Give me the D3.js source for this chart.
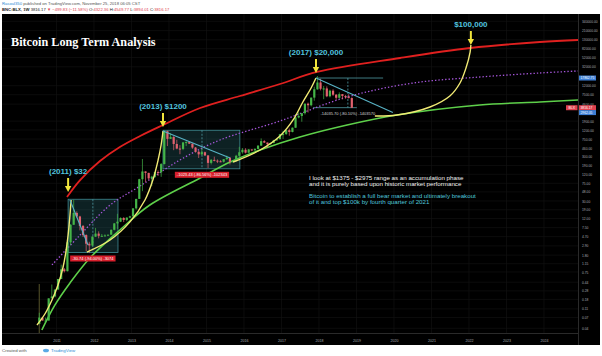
<!DOCTYPE html>
<html><head><meta charset="utf-8">
<script src="https://cdn.jsdelivr.net/npm/d3@7"></script>
<style>
body{margin:0;background:#fff;}
svg{display:block;font-family:"Liberation Sans",Arial,sans-serif;}
</style>
</head><body>
<svg id="chart" width="602" height="356"></svg>
<script>
// ---------------- DATA ----------------
// Monthly candles of BNC:BLX starting July 2010
const startYear = 2010, startMonth = 7;
const opens = [
  0.05,0.07,0.06,0.06,0.19,0.21,
  0.30,0.52,0.86,0.78,3.50,8.70,16.1,13.4,8.2,5.1,3.25,2.97,
  4.7,5.5,4.9,4.9,5.0,5.2,6.7,9.35,10.2,12.4,11.2,12.6,
  13.5,20.4,33.4,93,139,129,97,106,135,133,204,1130,
  757,832,580,457,448,630,640,589,481,387,338,378,
  320,217,254,244,236,230,263,285,230,236,314,377,
  430,369,437,416,448,531,673,624,573,608,700,742,
  963,970,1190,1080,1350,2300,2480,2875,4700,4340,6450,9950,
  14150,10220,10390,6920,9250,7500,6400,7730,7030,6630,6300
];
const highs = [
  0.09,0.07,0.07,0.19,0.39,0.30,
  0.52,1.10,0.92,3.90,9.00,32.0,17.5,13.9,8.6,5.3,3.6,4.8,
  7.4,6.2,5.4,5.3,5.2,6.8,9.5,15.4,12.8,12.9,12.9,13.9,
  20.6,33.5,95,266,140,130,111,136,147,215,1183,1160,
  1010,870,720,545,630,670,650,600,495,410,460,390,
  320,265,300,260,250,265,317,285,245,330,500,470,
  465,445,440,465,545,775,705,625,615,720,755,980,
  1150,1210,1290,1370,2760,2980,2900,4750,4980,6470,11400,19800,
  17200,11800,11600,9750,9970,7760,8480,7750,7420,7680,6550
];
const lows = [
  0.05,0.06,0.06,0.06,0.19,0.20,
  0.30,0.52,0.73,0.77,3.00,8.70,12.5,6.5,4.6,2.2,1.99,2.8,
  4.6,4.3,4.7,4.8,4.9,5.2,6.5,7.0,10.0,10.0,10.5,12.5,
  13.2,19.2,33.2,50,80,90,65,100,110,105,200,520,
  750,420,440,340,420,520,580,450,370,280,320,310,
  165,200,235,215,225,220,255,200,225,235,300,350,
  355,365,400,410,440,530,610,470,565,605,690,740,
  750,930,890,1060,1340,2200,1840,2680,2970,4100,5500,9700,
  9400,5950,6600,6550,7050,5780,6100,5880,6100,6200,3760
];
const closes = [
  0.07,0.06,0.06,0.19,0.21,0.30,
  0.52,0.86,0.78,3.50,8.70,16.1,13.4,8.2,5.1,3.25,2.97,4.7,
  5.5,4.9,4.9,5.0,5.2,6.7,9.35,10.2,12.4,11.2,12.6,13.5,
  20.4,33.4,93,139,129,97,106,135,133,204,1130,757,
  832,580,457,448,630,640,589,481,387,338,378,320,
  217,254,244,236,230,263,285,230,236,314,377,430,
  369,437,416,448,531,673,624,573,608,700,742,963,
  970,1190,1080,1350,2300,2480,2875,4700,4340,6450,9950,14150,
  10220,10390,6920,9250,7500,6400,7730,7030,6630,6300,3816.17
];

// Long-term band curves: [decimal year, price]
const redBand = [[2011.28,36.9],[2011.63,89],[2012.16,239],[2012.69,496],[2013.23,879],[2013.84,1556],
  [2014.83,3767],[2015.89,7015],[2016.96,13100],[2017.95,24430],[2020.16,50580],[2022.03,85100],[2023.89,116100],[2024.91,128800]];
const purpleBand = [[2010.88,1.08],[2011.63,5.12],[2012.43,24.3],[2013.23,65.3],[2014.29,252],[2015.36,713],
  [2016.96,1915],[2018.75,6668],[2020.51,13800],[2022.29,18840],[2023.89,23200],[2024.91,25760]];
const greenBand = [[2010.61,0.0367],[2010.96,0.135],[2011.36,0.423],[2011.89,1.55],[2012.69,6.64],[2013.49,24.3],
  [2014.83,99],[2015.63,227],[2016.43,424],[2017.49,834],[2018.75,1556],[2020.08,2616],[2022.29,4400],[2023.89,5140],[2024.91,5700]];
// Parabolic runs (yellow)
const parabola2011 = [[2010.48,0.0476],[2010.69,0.0843],[2010.88,0.175],[2011.04,0.381],[2011.17,0.921],[2011.25,2.11],[2011.31,5.12],[2011.36,14.5],[2011.39,31.6]];
const parabola2013 = [[2011.81,2.11],[2012.43,3.95],[2012.96,10.1],[2013.36,31.6],[2013.57,89],[2013.71,252],[2013.79,550],[2013.84,1138]];
const parabola2017 = [[2015.71,227],[2016.43,424],[2016.96,879],[2017.31,2018],[2017.57,5140],[2017.79,10640],[2017.92,17900]];
const parabola2021 = [[2019.49,2483],[2020.08,2616],[2020.96,3963],[2021.49,7015],[2021.76,13800],[2021.92,30060],[2022.03,69050],[2022.05,99300]];

// Measurement boxes (price range tool)
const boxStart  = [2011.31, 2013.84, 2017.92];
const boxEnd    = [2012.64, 2015.89, 2019.71];
const boxMid    = [2011.97, 2014.88, 2018.77];
const boxTop    = [32.8, 1183, 17862.75];
const boxBottom = [2.06, 159.57, 3827.05];
const boxLabels = ["-30.74 (-94.00%) -3074", "-1023.43 (-86.56%) -102343", "-14035.70 (-80.10%) -1403570"];
// Down-trend lines
const trendFrom = [[2011.36,31.6],[2013.84,1138],[2017.92,17900]];
const trendTo   = [[2011.84,3.04],[2015.63,280],[2019.97,2962.05]];

// Peak call-outs
const peakLabels = ["(2011) $32", "(2013) $1200", "(2017) $20,000", "$100,000"];
const peakDates  = [2011.31, 2013.84, 2017.92, 2022.05];
const peakPrices = [47.9, 1403, 23200, 99300];

const noteLines  = ["I look at $1375 - $2975  range as an accumulation phase",
                    "and it is purely based upon historic market performance"];
const noteLines2 = ["Bitcoin to establish a full bear market and ultimately breakout",
                    "of it and  top $100k by fourth quarter of 2021"];

const priceTicks = [550000,340000,210000,130000,82000,52000,32000,12000,7500,4600,1900,1200,750,460,300,190,120,
  75,48,30,19,12,7.5,4.7,2.9,1.8,1.15,0.75,0.44,0.28,0.18,0.11,0.07,0.04];
const yearTicks = [2011,2012,2013,2014,2015,2016,2017,2018,2019,2020,2021,2022,2023,2024];
const priceBoxes = [17862.75, 3816.17, 2962.05];
const priceBoxColors = ["#3d7fd6", "#e0424f", "#3d7fd6"];

// ---------------- DRAW ----------------
const W = 602, H = 356;
const L = 2, R = 578, T = 14, B = 333;
const svg = d3.select("#chart");
svg.append("rect").attr("width", W).attr("height", H).attr("fill", "#fff");
svg.append("rect").attr("x", 2).attr("y", 14).attr("width", 598).attr("height", 331).attr("fill", "#000");

const x = d3.scaleLinear().domain([2009.547, 2024.907]).range([L, R]);
const y = d3.scaleLog().domain([0.0314, 497700]).range([B, T]);

// grid
const grid = svg.append("g");
grid.selectAll("line.h").data(priceTicks.filter(d => y(d) > T)).join("line")
  .attr("x1", L).attr("x2", R).attr("y1", d => y(d)).attr("y2", d => y(d))
  .attr("stroke", "#141414").attr("stroke-width", 0.6);
grid.selectAll("line.v").data(yearTicks).join("line")
  .attr("y1", T).attr("y2", B).attr("x1", d => x(d)).attr("x2", d => x(d))
  .attr("stroke", "#141414").attr("stroke-width", 0.6);

svg.append("defs").append("clipPath").attr("id", "plot")
  .append("rect").attr("x", L).attr("y", T).attr("width", R - L).attr("height", B - T);
const plot = svg.append("g").attr("clip-path", "url(#plot)");

// session marker line
plot.append("line").attr("x1", x(2010.54)).attr("x2", x(2010.54)).attr("y1", y(0.4)).attr("y2", B)
  .attr("stroke", "#6f6b35").attr("stroke-width", 0.8);

// measurement boxes
boxStart.forEach((s, i) => {
  const x0 = x(s), x1 = x(boxEnd[i]), y0 = y(boxTop[i]), y1 = y(boxBottom[i]);
  if (i < 2) {
    plot.append("rect").attr("x", x0).attr("y", y0).attr("width", x1 - x0).attr("height", y1 - y0)
      .attr("fill", "rgba(45,120,125,0.28)").attr("stroke", "#3f8c94").attr("stroke-width", 0.8);
  } else {
    plot.append("line").attr("x1", x0).attr("x2", x1).attr("y1", y0).attr("y2", y0)
      .attr("stroke", "#4f9aa3").attr("stroke-width", 0.8);
    plot.append("line").attr("x1", x(2017.84)).attr("x2", x(2019.01)).attr("y1", y1).attr("y2", y1)
      .attr("stroke", "#4f9aa3").attr("stroke-width", 0.8);
  }
  plot.append("line").attr("x1", x(boxMid[i])).attr("x2", x(boxMid[i])).attr("y1", y0).attr("y2", y1)
    .attr("stroke", "#4f9aa3").attr("stroke-width", 0.8).attr("stroke-dasharray", "2,1.5");
});

// curves
const line = d3.line().x(d => x(d[0])).y(d => y(d[1])).curve(d3.curveCatmullRom.alpha(0.5));
plot.append("path").attr("d", line(greenBand)).attr("fill", "none").attr("stroke", "#5ed04a").attr("stroke-width", 1.6);
plot.append("path").attr("d", line(purpleBand)).attr("fill", "none").attr("stroke", "#a455d8").attr("stroke-width", 1.3).attr("stroke-dasharray", "1.4,2");
plot.append("path").attr("d", line(redBand)).attr("fill", "none").attr("stroke", "#e0201f").attr("stroke-width", 1.8);

// candles
const candleT = closes.map((_, i) => startYear + (startMonth - 1 + i + 0.5) / 12);
const cg = plot.append("g");
closes.forEach((c, i) => {
  const up = c >= opens[i];
  const col = up ? "#45b548" : "#e2616e";
  const cx = x(candleT[i]);
  cg.append("line").attr("x1", cx).attr("x2", cx).attr("y1", y(highs[i])).attr("y2", y(lows[i]))
    .attr("stroke", col).attr("stroke-width", 0.7);
  const yTop = y(Math.max(c, opens[i])), yBot = y(Math.min(c, opens[i]));
  cg.append("rect").attr("x", cx - 1.1).attr("width", 2.2).attr("y", yTop).attr("height", Math.max(1, yBot - yTop)).attr("fill", col);
});

// yellow parabolas
[parabola2011, parabola2013, parabola2017, parabola2021].forEach(p => {
  plot.append("path").attr("d", line(p)).attr("fill", "none").attr("stroke", "#f1ea74").attr("stroke-width", 1.4);
});

// trend lines
trendFrom.forEach((f, i) => {
  plot.append("line").attr("x1", x(f[0])).attr("y1", y(f[1])).attr("x2", x(trendTo[i][0])).attr("y2", y(trendTo[i][1]))
    .attr("stroke", "#58b3c6").attr("stroke-width", 1.1);
});

// measure labels
boxLabels.forEach((lab, i) => {
  const cx = x(boxMid[i]), yy = y(boxBottom[i]) + 6;
  const t = svg.append("text").attr("x", cx).attr("y", yy + 1.5).attr("text-anchor", "middle")
    .attr("font-size", 4.0).attr("fill", i < 2 ? "#fff" : "#d8d8d8").text(lab);
  const w = t.node().getComputedTextLength();
  if (i < 2) {
    svg.insert("rect", () => t.node()).attr("x", cx - w / 2 - 2).attr("y", yy - 3).attr("width", w + 4).attr("height", 6).attr("fill", "#d71f2c");
  }
});

// peak arrows & labels
peakLabels.forEach((lab, i) => {
  const ax = x(peakDates[i]), tip = y(peakPrices[i]);
  svg.append("line").attr("x1", ax).attr("x2", ax).attr("y1", tip - 14).attr("y2", tip - 5)
    .attr("stroke", "#f2e63c").attr("stroke-width", 2);
  svg.append("path").attr("d", `M${ax - 3.2},${tip - 6} L${ax + 3.2},${tip - 6} L${ax},${tip} Z`).attr("fill", "#f2e63c");
  svg.append("text").attr("x", ax).attr("y", tip - 18).attr("text-anchor", "middle")
    .attr("font-size", 8).attr("font-weight", "bold").attr("fill", "#52c3df").text(lab);
});

// notes
noteLines.forEach((t, i) => {
  svg.append("text").attr("x", 309).attr("y", 179.5 + i * 6.4).attr("font-size", 6.2).attr("fill", "#f2f2f2").text(t);
});
noteLines2.forEach((t, i) => {
  svg.append("text").attr("x", 309).attr("y", 197.5 + i * 6.4).attr("font-size", 6.2).attr("fill", "#4fc6dc").text(t);
});

// title
svg.append("text").attr("x", 11).attr("y", 46).attr("font-family", "'Liberation Serif','Times New Roman',serif")
  .attr("font-weight", "bold").attr("font-size", 12.2).attr("fill", "#fff").text("Bitcoin Long Term Analysis");

// frame lines
svg.append("line").attr("x1", R + 0.5).attr("x2", R + 0.5).attr("y1", T).attr("y2", 345).attr("stroke", "#3c3c3c").attr("stroke-width", 0.7);
svg.append("line").attr("x1", L).attr("x2", R).attr("y1", B + 0.5).attr("y2", B + 0.5).attr("stroke", "#3c3c3c").attr("stroke-width", 0.7);

// right axis
const ay = svg.append("g").attr("transform", `translate(${R},0)`)
  .call(d3.axisRight(y).tickValues(priceTicks.filter(d => y(d) > T)).tickFormat(d => d.toFixed(2)).tickSize(0).tickPadding(4));
ay.select(".domain").remove();
ay.selectAll("text").attr("font-size", 3.3).attr("fill", "#a9acb3").attr("font-family", "'Liberation Sans',Arial,sans-serif");

// bottom axis
const ax = svg.append("g").attr("transform", `translate(0,${B})`)
  .call(d3.axisBottom(x).tickValues(yearTicks).tickFormat(d3.format("d")).tickSize(0).tickPadding(6));
ax.select(".domain").remove();
ax.selectAll("text").attr("font-size", 3.6).attr("fill", "#a9acb3").attr("font-family", "'Liberation Sans',Arial,sans-serif");

// price boxes on axis
priceBoxes.forEach((p, i) => {
  const py = y(p);
  svg.append("rect").attr("x", R + 1).attr("y", py - 2.5).attr("width", 17).attr("height", 5).attr("fill", priceBoxColors[i]);
  svg.append("text").attr("x", R + 2.5).attr("y", py + 1.2).attr("font-size", 3.3).attr("fill", "#fff").text(p.toFixed(2));
});
const lastY = y(closes[closes.length - 1]);
svg.append("rect").attr("x", 566).attr("y", lastY - 2.5).attr("width", 11.5).attr("height", 5).attr("fill", "#e0424f");
svg.append("text").attr("x", 571.8).attr("y", lastY + 1.2).attr("text-anchor", "middle").attr("font-size", 3.4).attr("fill", "#fff").text("BLX");

// header
const h1 = svg.append("text").attr("x", 2).attr("y", 5).attr("font-size", 4.2).attr("fill", "#555");
h1.append("tspan").attr("fill", "#2a8ad4").text("Rasoul350");
h1.append("tspan").text(" published on TradingView.com, November 25, 2018 06:05 CST");
const h2 = svg.append("text").attr("x", 2).attr("y", 11).attr("font-size", 4.2).attr("fill", "#222").attr("font-weight", "bold");
h2.append("tspan").text("BNC:BLX, 1W ");
h2.append("tspan").attr("font-weight", "normal").text("3816.17 ");
h2.append("tspan").attr("fill", "#e0424f").text("▼ ");
h2.append("tspan").attr("font-weight", "normal").attr("fill", "#e0424f").text("−499.83 (−11.58%) ");
h2.append("tspan").attr("font-weight", "normal").text("O:");
h2.append("tspan").attr("font-weight", "normal").attr("fill", "#e0424f").text("4322.36 ");
h2.append("tspan").attr("font-weight", "normal").text("H:");
h2.append("tspan").attr("font-weight", "normal").attr("fill", "#e0424f").text("4549.77 ");
h2.append("tspan").attr("font-weight", "normal").text("L:");
h2.append("tspan").attr("font-weight", "normal").attr("fill", "#e0424f").text("3894.01 ");
h2.append("tspan").attr("font-weight", "normal").text("C:");
h2.append("tspan").attr("font-weight", "normal").attr("fill", "#e0424f").text("3816.17");

// footer
svg.append("text").attr("x", 2).attr("y", 352).attr("font-size", 4.4).attr("fill", "#555").text("Created with");
svg.append("ellipse").attr("cx", 46).attr("cy", 350.5).attr("rx", 3).attr("ry", 1.8).attr("fill", "#5aa9e6");
svg.append("text").attr("x", 51).attr("y", 352).attr("font-size", 4.4).attr("fill", "#2a8ad4").text("TradingView");
</script>
</body></html>
